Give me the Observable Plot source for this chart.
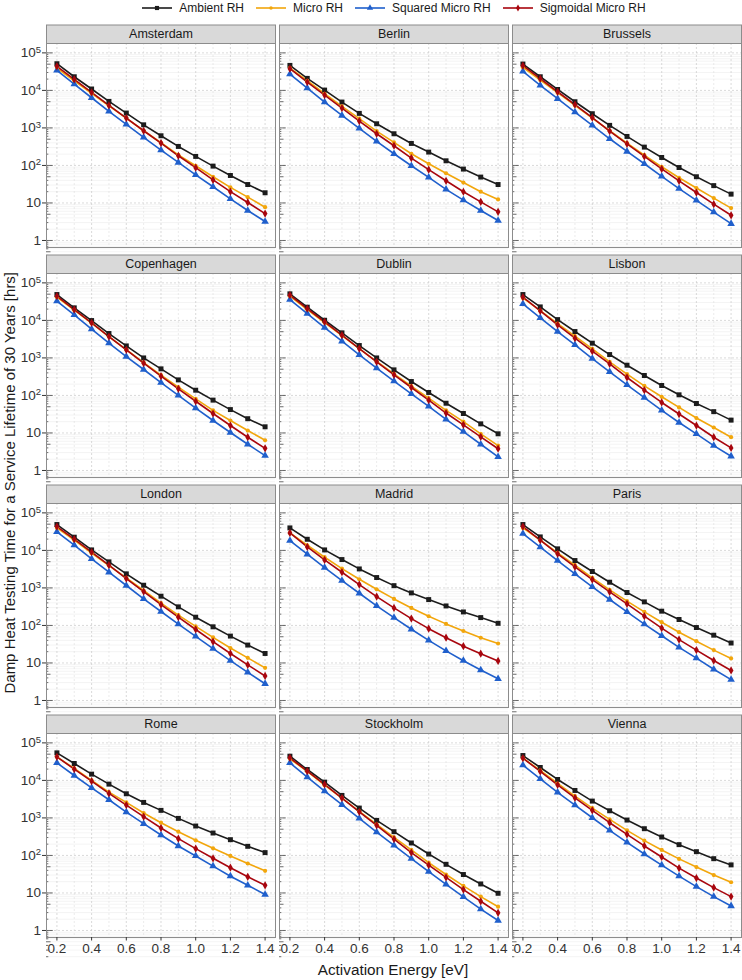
<!DOCTYPE html>
<html><head><meta charset="utf-8">
<script src="https://cdn.jsdelivr.net/npm/d3@7"></script>
<script src="https://cdn.jsdelivr.net/npm/@observablehq/plot@0.6"></script>
<style>
body{margin:0;background:#fff;font-family:"Liberation Sans",Arial,sans-serif;}
#legend{width:742px;height:16px;display:flex;align-items:center;justify-content:center;padding-left:46px;box-sizing:border-box;font-size:12px;color:#1a1a1a;}
.item{display:flex;align-items:center;margin:0 6px;white-space:nowrap;}
.item svg{margin-right:7px;}
</style></head><body>
<div id="legend"></div>
<div id="chart"></div>
<script>
// ---------- data ----------
const cities = ["Amsterdam","Berlin","Brussels","Copenhagen","Dublin","Lisbon","London","Madrid","Paris","Rome","Stockholm","Vienna"];
const energies = [0.2,0.3,0.4,0.5,0.6,0.7,0.8,0.9,1.0,1.1,1.2,1.3,1.4];
const seriesNames = ["Ambient RH","Micro RH","Squared Micro RH","Sigmoidal Micro RH"];
const seriesColors = ["#1c1c1c","#f2a60c","#1f5fcc","#a8060e"];
const seriesSymbols = ["square","circle","triangle","diamond"];

const ambientRH = [
  [51400,23100,10900,5090,2490,1210,618,321,174,96,54,31,18.7],
  [46400,20900,10200,4890,2440,1290,699,386,227,133,80,49,31],
  [50400,23100,10600,4990,2390,1170,593,308,163,88,50,29,17.2],
  [48900,21600,9910,4470,2090,1000,511,260,138,75,42,24,14.6],
  [51000,22500,10100,4660,2140,1000,481,235,120,62,33,17.5,9.5],
  [48900,22900,10500,5050,2470,1230,640,340,184,104,61,37,22],
  [48900,22500,10300,4950,2370,1180,602,313,166,92,52,30,17.9],
  [39800,19800,10300,5700,3210,1890,1150,736,489,331,229,162,114],
  [48900,22900,11000,5370,2740,1420,754,425,240,144,88,55,34],
  [54200,28200,14700,7960,4400,2590,1590,972,608,396,263,175,119],
  [44200,19500,9000,3980,1830,859,430,215,109,58,31,17.4,9.8],
  [46000,22100,10600,5400,2810,1550,877,516,310,194,126,82,56]
];
const microRH = [
  [39400,18100,8300,3900,1830,840,402,192,98,50,26,14.3,7.7],
  [39400,18100,8150,3740,1760,823,410,205,111,62,35,20,12.4],
  [41000,18900,8670,3980,1830,840,394,189,92,47,25,13.5,7.3],
  [41500,18700,8420,3720,1670,754,347,166,81,40,21.5,11.6,6.4],
  [44100,19500,8770,3950,1780,802,376,177,85,40,20,9.5,4.6],
  [39800,18300,8250,3790,1750,785,369,180,92,48,25,14,7.7],
  [39800,18700,8420,3950,1850,853,392,188,94,48,25,13.7,7.4],
  [29300,13700,6580,3280,1700,921,509,293,176,110,71,47,33],
  [39800,18700,8590,4030,1850,888,443,230,122,66,38,22,13.2],
  [42400,20800,9960,4870,2590,1350,745,430,253,155,97,61,39],
  [37500,17300,7480,3380,1490,673,304,140,64,31,15.4,8.0,4.3],
  [39100,18400,8280,3820,1830,914,466,248,140,81,49,30,19.3]
];
const squaredMicroRH = [
  [34100,14800,6370,2750,1240,558,256,120,56,27,12.9,6.3,3.2],
  [27300,11500,4890,2150,970,437,205,98,48,23,11.9,6.3,3.4],
  [32100,13600,6000,2640,1170,514,236,111,51,24,11.7,5.7,2.8],
  [32500,14000,5830,2470,1090,491,221,100,46,21.5,10.3,5.0,2.5],
  [36000,15200,6460,2790,1210,533,240,110,51,23,10.9,5.0,2.3],
  [27600,11700,5050,2230,964,426,192,88,40,19,9.5,4.6,2.4],
  [31200,13800,5950,2620,1160,511,235,108,51,24,11.6,5.6,2.8],
  [18300,7900,3480,1570,721,331,162,79,40,21,11.5,6.5,3.8],
  [28100,12200,5370,2370,1070,491,230,108,53,26,13.4,6.8,3.6],
  [29400,13500,6350,3050,1430,701,350,179,97,52,28,16,9.1],
  [29400,12200,5190,2250,972,421,186,82,37,17,7.9,3.7,1.85],
  [25500,11000,4780,2200,1010,466,223,109,55,28,14.8,8.0,4.5]
];
const sigmoidalMicroRH = [
  [43700,19600,8850,3980,1830,840,394,181,87,41,20,10.3,5.2],
  [37800,16700,7510,3380,1520,699,335,157,77,39,19.9,10.7,5.8],
  [45500,20500,9200,4150,1870,823,378,174,81,39,19,9.3,4.7],
  [44100,19500,8600,3720,1640,724,326,150,70,33,15.8,7.7,3.9],
  [46900,20700,9140,4030,1780,785,354,163,75,34,16.5,7.9,3.8],
  [41500,17900,7600,3360,1510,695,301,138,65,32,15.8,7.7,4.0],
  [43200,19900,8950,4030,1780,802,361,166,78,37,17.9,8.9,4.5],
  [29300,12400,5580,2620,1230,587,293,152,82,47,28,17.7,11.3],
  [43200,18700,8090,3640,1670,785,376,177,85,42,22,11.6,6.3],
  [42400,19900,9550,4490,2200,1080,538,280,152,84,47,27,16],
  [39900,17600,7800,3380,1460,633,274,119,55,26,12.3,6.0,2.95],
  [39100,17300,7640,3440,1590,745,365,179,91,46,25,13.9,8.0]
];

const xTicks = [0.2,0.4,0.6,0.8,1.0,1.2,1.4];
const xMinorTicks = [0.3,0.5,0.7,0.9,1.1,1.3];
const yTicks = [1,10,100,1000,10000,100000];

// ---------- layout ----------
const W = 742, H = 964;
const mL = 45, mR = 1, mT = 27, mB = 43;
const panelW = 229, colGap = 4.5;
const panelH = 204, rowGap = 26;
const stripH = 18.5;

// ---------- build table ----------
const seriesValues = [ambientRH, microRH, squaredMicroRH, sigmoidalMicroRH];
const rows = [];
cities.forEach((c, ci) => {
  seriesValues.forEach((arr, si) => {
    energies.forEach((e, xi) => {
      rows.push({city: c, col: ci % 3, row: Math.floor(ci / 3), series: seriesNames[si], x: e, y: arr[ci][xi]});
    });
  });
});
const cityRows = cities.map((c, i) => ({city: c, col: i % 3, row: Math.floor(i / 3)}));

// minor log ticks
const yMinor = [];
[0.1,1,10,100,1000,10000].forEach(d => { for (let k = 2; k <= 9; k++) yMinor.push(d * k); });
const yMid = yMinor.filter(v => Math.abs(v / Math.pow(10, Math.floor(Math.log10(v) + 1e-9)) - 5) < 1e-6);
const yShort = yMinor.filter(v => !yMid.includes(v));

const marks = [
  Plot.gridY(yMinor, {stroke: "#ececec", strokeOpacity: 1, strokeWidth: 0.6}),
  Plot.gridX(xMinorTicks, {stroke: "#dedede", strokeOpacity: 1, strokeWidth: 0.6, strokeDasharray: "2,2"}),
  Plot.gridX(xTicks, {stroke: "#cacaca", strokeOpacity: 1, strokeWidth: 0.7, strokeDasharray: "2,2"}),
  Plot.gridY(yTicks, {stroke: "#cacaca", strokeOpacity: 1, strokeWidth: 0.7, strokeDasharray: "2,2"}),
];
seriesNames.forEach((s, si) => {
  marks.push(Plot.line(rows, {filter: d => d.series === s, x: "x", y: "y", fx: "col", fy: "row", stroke: seriesColors[si], strokeWidth: 1.6}));
});
const rSizes = [2.8, 2.1, 2.8, 2.5];
seriesNames.forEach((s, si) => {
  marks.push(Plot.dot(rows, {filter: d => d.series === s, x: "x", y: "y", fx: "col", fy: "row", symbol: seriesSymbols[si], fill: seriesColors[si], r: rSizes[si]}));
});
marks.push(
  Plot.tickY(yTicks, {stroke: "#333", strokeWidth: 0.7, insetRight: panelW - 6.8}),
  Plot.tickY(yMid, {stroke: "#333", strokeWidth: 0.7, insetRight: panelW - 4.5}),
  Plot.tickY(yShort, {stroke: "#333", strokeWidth: 0.7, insetRight: panelW - 2.3}),
  Plot.frame({stroke: "#8c8c8c", strokeWidth: 1}),
  Plot.frame({fill: "#d9d9d9", stroke: "#8c8c8c", strokeWidth: 1, insetTop: -stripH, insetBottom: panelH}),
  Plot.text(cityRows, {fx: "col", fy: "row", text: "city", frameAnchor: "top", lineAnchor: "middle", dy: -stripH / 2, fontSize: 12.5, fill: "#1a1a1a"}),
  Plot.axisY({ticks: yTicks, tickFormat: d => d >= 100 ? "10^" + Math.round(Math.log10(d)) : String(d), tickSize: 4, tickPadding: 1.5, fontSize: 13.5, color: "#333", label: null}),
  Plot.axisX({ticks: xTicks, tickFormat: d3.format(".1f"), tickSize: 3.5, tickPadding: 2.5, fontSize: 13.5, color: "#333", label: null})
);

const chart = Plot.plot({
  width: W, height: H,
  marginLeft: mL, marginRight: mR, marginTop: mT, marginBottom: mB,
  style: {fontFamily: "'Liberation Sans', Arial, sans-serif", fontSize: "12px", background: "#fff", overflow: "visible"},
  fx: {domain: [0,1,2], paddingInner: colGap / (panelW + colGap), paddingOuter: 0, axis: null, label: null},
  fy: {domain: [0,1,2,3], paddingInner: rowGap / (panelH + rowGap), paddingOuter: 0, axis: null, label: null},
  x: {domain: [0.14, 1.46]},
  y: {type: "log", domain: [Math.pow(10, -0.187), Math.pow(10, 5.25)]},
  marks
});
document.getElementById("chart").appendChild(chart);

// superscript exponents on the y tick labels
d3.select(chart).selectAll("text").each(function() {
  const t = this.textContent;
  const m = /^10\^(\d)$/.exec(t);
  if (m) {
    const sel = d3.select(this);
    sel.text("");
    sel.append("tspan").text("10");
    sel.append("tspan").attr("dy", "-0.45em").attr("font-size", "9.5px").text(m[1]);
  }
});

// axis titles
const svg = d3.select(chart);
svg.append("text").attr("x", mL + (W - mL - mR) / 2).attr("y", 953)
  .attr("text-anchor", "middle").attr("dominant-baseline", "central")
  .attr("font-size", 15.3).attr("fill", "#1a1a1a").text("Activation Energy [eV]");
svg.append("text").attr("transform", `translate(9,${mT - stripH + (3 * (panelH + rowGap) + panelH + stripH) / 2 + 2}) rotate(-90)`)
  .attr("text-anchor", "middle").attr("dominant-baseline", "central")
  .attr("font-size", 15).attr("fill", "#1a1a1a").text("Damp Heat Testing Time for a Service Lifetime of 30 Years [hrs]");

// legend
const legend = d3.select("#legend");
const symMap = {square: d3.symbolSquare, circle: d3.symbolCircle, triangle: d3.symbolTriangle, diamond: d3.symbolDiamond};
seriesNames.forEach((s, si) => {
  const item = legend.append("div").attr("class", "item");
  const k = item.append("svg").attr("width", 30).attr("height", 10);
  k.append("line").attr("x1", 0).attr("x2", 30).attr("y1", 5).attr("y2", 5).attr("stroke", seriesColors[si]).attr("stroke-width", 1.6);
  k.append("path").attr("transform", "translate(15,5)")
    .attr("d", d3.symbol(symMap[seriesSymbols[si]], Math.PI * rSizes[si] * rSizes[si] * 0.7)())
    .attr("fill", seriesColors[si]);
  item.append("span").text(s);
});
</script>
</body></html>
